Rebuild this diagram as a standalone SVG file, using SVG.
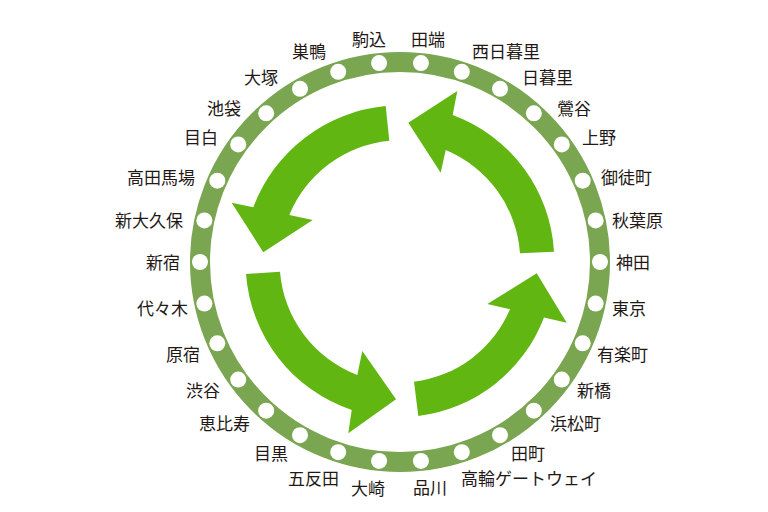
<svg xmlns="http://www.w3.org/2000/svg" width="768" height="512" viewBox="0 0 768 512">
<style>
.lbl{font-family:"Noto Sans CJK JP","Noto Sans",sans-serif;font-size:17px;fill:#231815}
.dot{fill:#ffffff}
.arrow{fill:#62b612}
.ring{fill:none;stroke:#7aa652;stroke-width:20}
</style>
<rect width="768" height="512" fill="#ffffff"/>
<g id="connectors">
<circle class="ring" cx="400" cy="262" r="200"/>
</g>
<g id="arrows">
<path id="arrow-top-left" class="arrow" d="M385.7 106 A157 157 0 0 0 253.3 207.3 L231.7 202.7 L263.3 252.3 L312.7 220 L289.3 215 A121 121 0 0 1 389.3 140.7 Z"/>
<path id="arrow-top-right" class="arrow" d="M554 251.7 A155 155 0 0 0 452.7 115 L457.3 91 L408.3 122.7 L440.7 172.7 L445.7 150 A121 121 0 0 1 520 253.3 Z"/>
<path id="arrow-bottom-right" class="arrow" d="M418.3 416 A155 155 0 0 0 544 317.4 L566.7 322.7 L536.7 273.3 L487.3 304 L510 309.3 A120 120 0 0 1 414 381.7 Z"/>
<path id="arrow-bottom-left" class="arrow" d="M246 274 A156 156 0 0 0 351.7 410 L348.3 433.3 L396 399.3 L362.3 351 L357.3 375 A121 121 0 0 1 280 271.7 Z"/>
</g>
<g id="tabata"><circle class="dot" cx="420.91" cy="63.10" r="8"/><text class="lbl" x="411" y="46">田端</text></g>
<g id="nishi-nippori"><circle class="dot" cx="461.80" cy="71.79" r="8"/><text class="lbl" x="472" y="58">西日暮里</text></g>
<g id="nippori"><circle class="dot" cx="500" cy="88.79" r="8"/><text class="lbl" x="522" y="84">日暮里</text></g>
<g id="uguisudani"><circle class="dot" cx="533.83" cy="113.37" r="8"/><text class="lbl" x="557" y="115">鶯谷</text></g>
<g id="ueno"><circle class="dot" cx="561.80" cy="144.44" r="8"/><text class="lbl" x="582" y="144">上野</text></g>
<g id="okachimachi"><circle class="dot" cx="582.71" cy="180.65" r="8"/><text class="lbl" x="601" y="184">御徒町</text></g>
<g id="akihabara"><circle class="dot" cx="595.63" cy="220.42" r="8"/><text class="lbl" x="612" y="227">秋葉原</text></g>
<g id="kanda"><circle class="dot" cx="600" cy="262" r="8"/><text class="lbl" x="616" y="269">神田</text></g>
<g id="tokyo"><circle class="dot" cx="595.63" cy="303.58" r="8"/><text class="lbl" x="612" y="315">東京</text></g>
<g id="yurakucho"><circle class="dot" cx="582.71" cy="343.35" r="8"/><text class="lbl" x="597" y="361">有楽町</text></g>
<g id="shimbashi"><circle class="dot" cx="561.80" cy="379.56" r="8"/><text class="lbl" x="577" y="397">新橋</text></g>
<g id="hamamatsucho"><circle class="dot" cx="533.83" cy="410.63" r="8"/><text class="lbl" x="550" y="430">浜松町</text></g>
<g id="tamachi"><circle class="dot" cx="500" cy="435.21" r="8"/><text class="lbl" x="511" y="460">田町</text></g>
<g id="takanawa-gateway"><circle class="dot" cx="461.80" cy="452.21" r="8"/><text class="lbl" x="461" y="485">高輪ゲートウェイ</text></g>
<g id="shinagawa"><circle class="dot" cx="420.91" cy="460.90" r="8"/><text class="lbl" x="413" y="494">品川</text></g>
<g id="osaki"><circle class="dot" cx="379.09" cy="460.90" r="8"/><text class="lbl" x="351" y="495">大崎</text></g>
<g id="gotanda"><circle class="dot" cx="338.20" cy="452.21" r="8"/><text class="lbl" x="288" y="485">五反田</text></g>
<g id="meguro"><circle class="dot" cx="300" cy="435.21" r="8"/><text class="lbl" x="254" y="460">目黒</text></g>
<g id="ebisu"><circle class="dot" cx="266.17" cy="410.63" r="8"/><text class="lbl" x="199" y="430">恵比寿</text></g>
<g id="shibuya"><circle class="dot" cx="238.20" cy="379.56" r="8"/><text class="lbl" x="186" y="397">渋谷</text></g>
<g id="harajuku"><circle class="dot" cx="217.29" cy="343.35" r="8"/><text class="lbl" x="166" y="361">原宿</text></g>
<g id="yoyogi"><circle class="dot" cx="204.37" cy="303.58" r="8"/><text class="lbl" x="137" y="315">代々木</text></g>
<g id="shinjuku"><circle class="dot" cx="200" cy="262" r="8"/><text class="lbl" x="146" y="269">新宿</text></g>
<g id="shin-okubo"><circle class="dot" cx="204.37" cy="220.42" r="8"/><text class="lbl" x="115" y="227">新大久保</text></g>
<g id="takadanobaba"><circle class="dot" cx="217.29" cy="180.65" r="8"/><text class="lbl" x="127" y="184">高田馬場</text></g>
<g id="mejiro"><circle class="dot" cx="238.20" cy="144.44" r="8"/><text class="lbl" x="184" y="144">目白</text></g>
<g id="ikebukuro"><circle class="dot" cx="266.17" cy="113.37" r="8"/><text class="lbl" x="207" y="115">池袋</text></g>
<g id="otsuka"><circle class="dot" cx="300" cy="88.79" r="8"/><text class="lbl" x="244" y="84">大塚</text></g>
<g id="sugamo"><circle class="dot" cx="338.20" cy="71.79" r="8"/><text class="lbl" x="292" y="58">巣鴨</text></g>
<g id="komagome"><circle class="dot" cx="379.09" cy="63.10" r="8"/><text class="lbl" x="352" y="46">駒込</text></g>
</svg>
